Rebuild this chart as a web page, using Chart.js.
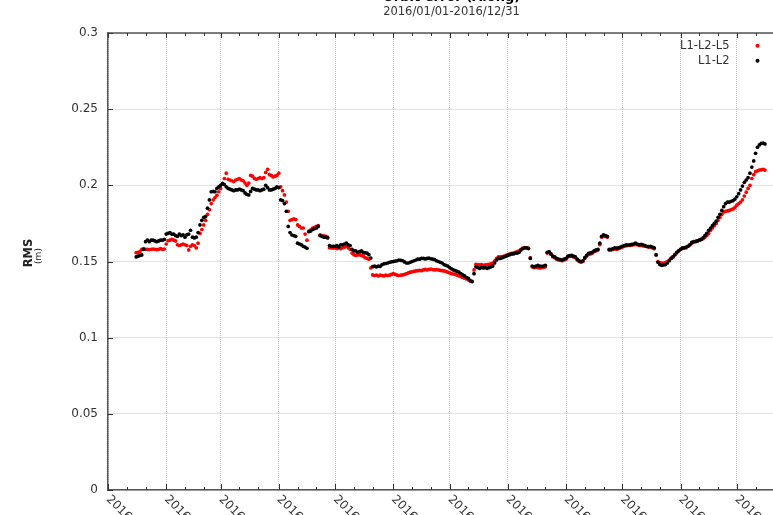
<!DOCTYPE html>
<html>
<head>
<meta charset="utf-8">
<script src="https://cdn.jsdelivr.net/npm/chart.js@4/dist/chart.umd.min.js"></script>
<style>
  html, body { margin: 0; padding: 0; background: #fff; overflow: hidden; width: 773px; height: 515px; }
  #wrap { position: absolute; left: 0; top: -20px; width: 830px; height: 560px; }
</style>
</head>
<body>
<div id="wrap"><canvas id="c" width="830" height="560"></canvas></div>
<script>
// Daily along-track RMS orbit error (m), 2016. First sample is 2016/01/16.
const firstSampleDate = '2016/01/16';

const seriesNames = ['L1-L2-L5', 'L1-L2'];
const seriesColors = ['#ff0000', '#000000'];

const rmsL1L2L5 = [
  0.1558,0.156,0.1565,0.158,0.1585,0.158,0.158,0.1578,0.158,0.1582,
  0.158,0.1578,0.158,0.1585,0.158,0.1582,0.1615,0.1637,0.164,0.1645,
  0.164,0.1635,0.161,0.1605,0.161,0.1615,0.161,0.1605,0.1576,0.16,
  0.161,0.1605,0.159,0.162,0.1685,0.171,0.174,0.177,0.181,0.184,
  0.188,0.1905,0.192,0.1935,0.1958,0.198,0.201,0.2045,0.208,0.204,
  0.2035,0.203,0.2025,0.2035,0.204,0.2045,0.2035,0.203,0.2015,0.2,
  0.2015,0.2065,0.206,0.2045,0.204,0.2045,0.205,0.2045,0.205,0.2085,
  0.2105,0.207,0.2065,0.2055,0.206,0.2065,0.208,0.199,0.1965,0.1937,
  0.189,0.183,0.177,0.1775,0.178,0.1775,0.174,0.173,0.172,0.172,
  0.168,0.164,0.17,0.1707,0.172,0.1725,0.173,0.1735,0.1675,0.167,
  0.1668,0.1665,0.166,0.159,0.159,0.1588,0.159,0.1585,0.159,0.1585,
  0.159,0.1595,0.16,0.159,0.158,0.1555,0.1545,0.154,0.1543,0.1545,
  0.154,0.1535,0.1525,0.152,0.1515,0.1458,0.1412,0.1408,0.141,0.1405,
  0.141,0.1408,0.1405,0.141,0.1408,0.141,0.1415,0.142,0.1415,0.141,
  0.1408,0.141,0.1412,0.1415,0.142,0.1425,0.143,0.1432,0.1435,0.1438,
  0.144,0.1442,0.144,0.1445,0.1448,0.1445,0.1448,0.145,0.1447,0.1445,
  0.1447,0.1445,0.1442,0.144,0.1438,0.1435,0.143,0.1425,0.142,0.1418,
  0.1415,0.141,0.1405,0.14,0.1395,0.139,0.1385,0.138,0.1372,0.137,
  0.1445,0.1482,0.148,0.1478,0.148,0.1475,0.1478,0.148,0.1482,0.1485,
  0.149,0.1505,0.152,0.153,0.153,0.1532,0.1535,0.154,0.1545,0.155,
  0.1553,0.1555,0.156,0.1565,0.157,0.158,0.1588,0.1592,0.159,0.1588,
  0.1525,0.1465,0.146,0.1462,0.146,0.1458,0.146,0.1462,0.1465,0.1555,
  0.156,0.1548,0.1532,0.1525,0.1515,0.151,0.1508,0.1505,0.151,0.1515,
  0.153,0.1535,0.1535,0.153,0.1525,0.151,0.15,0.1495,0.15,0.152,
  0.1535,0.1548,0.155,0.1555,0.1565,0.157,0.1575,0.161,0.166,0.1668,
  0.1665,0.166,0.1575,0.1575,0.158,0.1582,0.158,0.1585,0.159,0.1595,
  0.16,0.1603,0.1605,0.1605,0.1608,0.161,0.1612,0.161,0.1605,0.1605,
  0.1603,0.16,0.1598,0.1595,0.1595,0.159,0.1585,0.1545,0.15,0.1492,
  0.149,0.149,0.1492,0.15,0.151,0.1522,0.1532,0.1545,0.1555,0.157,
  0.158,0.1585,0.159,0.159,0.16,0.161,0.162,0.1628,0.163,0.1635,
  0.164,0.1645,0.165,0.166,0.167,0.1685,0.1705,0.172,0.1735,0.175,
  0.177,0.179,0.181,0.1825,0.183,0.1832,0.1835,0.184,0.1845,0.1855,
  0.187,0.188,0.189,0.1905,0.193,0.1955,0.198,0.2,0.2045,0.207,
  0.209,0.2095,0.21,0.2102,0.2105,0.21
];

const rmsL1L2 = [
  0.153,0.1535,0.154,0.1543,0.158,0.163,0.164,0.163,0.164,0.164,
  0.1635,0.163,0.1635,0.164,0.164,0.1645,0.168,0.1685,0.169,0.168,
  0.168,0.167,0.1665,0.168,0.167,0.1675,0.166,0.1675,0.168,0.1705,
  0.166,0.1655,0.166,0.169,0.174,0.177,0.179,0.1795,0.185,0.1904,
  0.1958,0.196,0.1958,0.198,0.199,0.2,0.2013,0.2005,0.199,0.198,
  0.1975,0.197,0.1965,0.197,0.197,0.1975,0.197,0.1965,0.195,0.194,
  0.1937,0.196,0.198,0.1975,0.197,0.197,0.1965,0.197,0.1975,0.2,
  0.1985,0.197,0.197,0.1975,0.198,0.199,0.1985,0.1904,0.19,0.188,
  0.183,0.173,0.169,0.1674,0.167,0.1665,0.162,0.1615,0.161,0.16,
  0.1595,0.1587,0.1696,0.17,0.171,0.1715,0.172,0.173,0.167,0.1665,
  0.166,0.166,0.1655,0.1605,0.16,0.16,0.16,0.1605,0.1595,0.161,
  0.161,0.1615,0.162,0.161,0.1605,0.158,0.157,0.157,0.156,0.1565,
  0.157,0.156,0.1556,0.1555,0.1545,0.1523,0.1466,0.147,0.1465,0.147,
  0.1468,0.148,0.1485,0.1487,0.149,0.1495,0.1498,0.15,0.1502,0.1505,
  0.151,0.1508,0.1505,0.1497,0.149,0.149,0.1495,0.15,0.1505,0.151,
  0.1515,0.1515,0.152,0.152,0.1517,0.152,0.1522,0.1518,0.1515,0.1512,
  0.1505,0.15,0.1495,0.149,0.148,0.1475,0.147,0.146,0.1452,0.1445,
  0.144,0.1435,0.143,0.142,0.1412,0.1405,0.1395,0.139,0.1375,0.1368,
  0.142,0.1465,0.146,0.1455,0.146,0.1458,0.146,0.1455,0.146,0.1465,
  0.147,0.149,0.151,0.152,0.152,0.1525,0.153,0.1535,0.154,0.1545,
  0.155,0.155,0.1555,0.1555,0.156,0.1575,0.1585,0.159,0.159,0.1585,
  0.152,0.147,0.1465,0.147,0.1475,0.147,0.1468,0.147,0.1475,0.156,
  0.1565,0.155,0.1535,0.153,0.152,0.1515,0.1513,0.151,0.1515,0.152,
  0.1535,0.1538,0.154,0.1535,0.153,0.1515,0.1505,0.15,0.1505,0.1525,
  0.154,0.1553,0.1556,0.156,0.157,0.1576,0.158,0.162,0.1665,0.1675,
  0.167,0.1665,0.158,0.158,0.1585,0.159,0.1588,0.159,0.1595,0.16,
  0.1605,0.161,0.1608,0.161,0.1612,0.1615,0.162,0.1615,0.161,0.1612,
  0.161,0.1605,0.16,0.1598,0.16,0.1595,0.159,0.1543,0.1495,0.148,
  0.1475,0.1478,0.148,0.149,0.1505,0.152,0.153,0.1545,0.156,0.157,
  0.158,0.159,0.159,0.1595,0.16,0.161,0.1625,0.163,0.1632,0.1635,
  0.164,0.1645,0.1655,0.167,0.1685,0.1705,0.172,0.1735,0.175,0.1765,
  0.179,0.181,0.1835,0.186,0.188,0.189,0.189,0.1895,0.19,0.191,
  0.1925,0.1945,0.197,0.1995,0.202,0.2035,0.205,0.208,0.212,0.216,
  0.221,0.225,0.2265,0.2275,0.2278,0.2272
];

// Axis ticks
const xTickLabels = [
  '2016/01/01','2016/02/01','2016/03/01','2016/04/01','2016/05/01','2016/06/01',
  '2016/07/01','2016/08/01','2016/09/01','2016/10/01','2016/11/01','2016/12/01','2017/01/01'
];
const xMinorTickLabels = [];
['01','02','03','04','05','06','07','08','09','10','11','12'].forEach(m => {
  xMinorTickLabels.push('2016/' + m + '/11', '2016/' + m + '/21');
});
const yTickValues = [0, 0.05, 0.1, 0.15, 0.2, 0.25, 0.3];
const yTickLabels = ['0', '0.05', '0.1', '0.15', '0.2', '0.25', '0.3'];

const FONT = "'DejaVu Sans', sans-serif";
const TEXT = '#333333';
const AXIS = '#555555';
const GRID = '#c4c4c4';

// Day of year (0 = 2016/01/01) for a 'YYYY/MM/DD' string
function dayOf(s) {
  const [y, m, d] = s.split('/').map(Number);
  return (Date.UTC(y, m - 1, d) - Date.UTC(2016, 0, 1)) / 86400000;
}
const xMajorDays = xTickLabels.map(dayOf);
const xMinorDays = xMinorTickLabels.map(dayOf);
const day0 = dayOf(firstSampleDate);
const toPoints = arr => arr.map((v, i) => ({ x: day0 + i, y: v }));

// Frame, inward ticks, rotated date labels, axis title and legend
const decorations = {
  id: 'decorations',
  afterDraw(chart) {
    const { ctx, chartArea: a, scales: { x: xs, y: ys } } = chart;
    ctx.save();
    ctx.strokeStyle = AXIS;
    ctx.lineWidth = 1.5;
    ctx.beginPath();
    const topY = Math.round(a.top);
    ctx.moveTo(a.left, topY); ctx.lineTo(a.right, topY);
    ctx.stroke();

    ctx.strokeStyle = '#333';
    ctx.lineWidth = 1;
    ctx.beginPath();
    const botY = Math.round(a.bottom);
    xMajorDays.forEach(d => {
      const px = Math.round(xs.getPixelForValue(d)) + 0.5;
      ctx.moveTo(px, botY); ctx.lineTo(px, botY - 6);
      ctx.moveTo(px, topY); ctx.lineTo(px, topY + 5);
    });
    xMinorDays.forEach(d => {
      const px = Math.round(xs.getPixelForValue(d)) + 0.5;
      ctx.moveTo(px, botY); ctx.lineTo(px, botY - 3);
      ctx.moveTo(px, topY); ctx.lineTo(px, topY + 3);
    });
    const leftX = Math.round(a.left);
    yTickValues.forEach(v => {
      const py = Math.round(ys.getPixelForValue(v)) + 0.5;
      ctx.moveTo(leftX, py); ctx.lineTo(leftX + 5, py);
    });
    ctx.stroke();

    // date labels, slanted downwards to the right
    ctx.fillStyle = TEXT;
    ctx.font = '12px ' + FONT;
    ctx.textAlign = 'left';
    ctx.textBaseline = 'middle';
    xMajorDays.forEach((d, i) => {
      ctx.save();
      ctx.translate(xs.getPixelForValue(d), a.bottom + 7.5);
      ctx.rotate(Math.PI / 4);
      ctx.fillText(xTickLabels[i], 0, 0);
      ctx.restore();
    });

    // y axis title: quantity and unit
    ctx.fillStyle = '#222';
    ctx.textAlign = 'center';
    ctx.save();
    ctx.translate(29, a.top + 220);
    ctx.rotate(-Math.PI / 2);
    ctx.font = 'bold 11.5px ' + FONT;
    ctx.fillText('RMS', 0, 0);
    ctx.restore();
    ctx.save();
    ctx.translate(38.5, a.top + 223);
    ctx.rotate(-Math.PI / 2);
    ctx.font = '9px ' + FONT;
    ctx.fillText('(m)', 0, 0);
    ctx.restore();

    // legend, top right of the plot
    ctx.font = '11.5px ' + FONT;
    ctx.textAlign = 'right';
    chart.data.datasets.forEach((ds, i) => {
      const cy = a.top + 12.7 + i * 15;
      ctx.fillStyle = TEXT;
      ctx.fillText(ds.label, a.right - 65.5, cy);
      ctx.fillStyle = ds.backgroundColor;
      ctx.beginPath();
      ctx.arc(a.right - 37.5, cy, 2, 0, Math.PI * 2);
      ctx.fill();
    });
    ctx.restore();
  }
};

new Chart(document.getElementById('c'), {
  type: 'scatter',
  data: {
    datasets: [
      { label: seriesNames[0], data: toPoints(rmsL1L2L5), backgroundColor: seriesColors[0], order: 2 },
      { label: seriesNames[1], data: toPoints(rmsL1L2), backgroundColor: seriesColors[1], order: 1 }
    ]
  },
  options: {
    responsive: false,
    animation: false,
    events: [],
    layout: { padding: { top: 10, left: 0, right: 35, bottom: 0 } },
    elements: { point: { radius: 1.85, borderWidth: 0, hoverRadius: 1.85 } },
    plugins: {
      legend: { display: false },
      tooltip: { enabled: false },
      title: {
        display: true, fullSize: false,
        text: 'Orbit error (Along)', color: '#000',
        font: { family: FONT, size: 13, weight: 'bold' },
        padding: { top: 0, bottom: 0 }
      },
      subtitle: {
        display: true, fullSize: false,
        text: '2016/01/01-2016/12/31', color: TEXT,
        font: { family: FONT, size: 11.5 },
        padding: { top: 0, bottom: 13.6 }
      }
    },
    scales: {
      x: {
        type: 'linear', min: 0, max: 366,
        afterBuildTicks: s => { s.ticks = xMajorDays.map(v => ({ value: v })); },
        afterFit: s => { s.height = 50; },
        ticks: { display: false },
        grid: { color: GRID, lineWidth: 1, drawTicks: false },
        border: { display: true, color: AXIS, width: 1.5, dash: [1, 1] }
      },
      y: {
        type: 'linear', min: 0, max: 0.3,
        afterBuildTicks: s => { s.ticks = yTickValues.map(v => ({ value: v })); },
        afterFit: s => { s.width = 108; },
        ticks: {
          color: TEXT, padding: 10,
          font: { family: FONT, size: 12 },
          callback: (v, i) => yTickLabels[i]
        },
        grid: { color: GRID, lineWidth: 1, drawTicks: false },
        border: { display: true, color: AXIS, width: 1.5, dash: [1, 1] }
      }
    }
  },
  plugins: [decorations]
});
</script>
</body>
</html>
